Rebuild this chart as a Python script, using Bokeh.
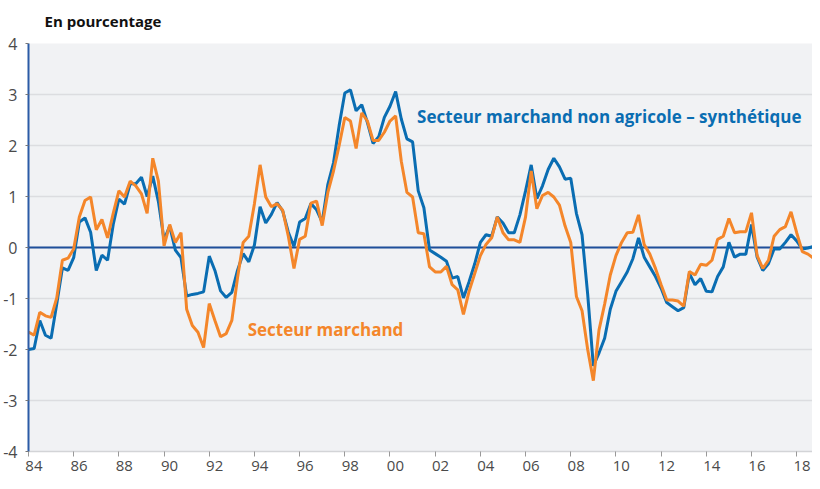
from bokeh.plotting import figure
from bokeh.models import FixedTicker, CustomJSTickFormatter, Span, Label, Title
from bokeh.embed import file_html
from bokeh.resources import INLINE

# ---- data (quarterly, from 1984 Q1) ----
start_year = 1984
blue_values = [
    -2.00, -1.98, -1.43, -1.72, -1.78, -1.11, -0.40, -0.45,
    -0.20, 0.50, 0.58, 0.30, -0.45, -0.15, -0.25, 0.45,
    0.95, 0.85, 1.25, 1.25, 1.38, 1.00, 1.40, 0.90,
    0.15, 0.42, -0.05, -0.20, -0.95, -0.92, -0.90, -0.87,
    -0.17, -0.45, -0.85, -0.98, -0.88, -0.45, -0.12, -0.28,
    0.05, 0.80, 0.48, 0.65, 0.88, 0.72, 0.30, 0.02,
    0.50, 0.57, 0.86, 0.74, 0.50, 1.24, 1.66, 2.39,
    3.03, 3.09, 2.68, 2.80, 2.45, 2.04, 2.17, 2.55,
    2.77, 3.06, 2.52, 2.13, 2.07, 1.11, 0.78, -0.05,
    -0.12, -0.19, -0.27, -0.60, -0.57, -0.99, -0.67, -0.32,
    0.10, 0.25, 0.22, 0.60, 0.48, 0.29, 0.29, 0.64,
    1.11, 1.62, 0.96, 1.21, 1.53, 1.75, 1.58, 1.34,
    1.36, 0.67, 0.25, -0.92, -2.32, -2.07, -1.78, -1.21,
    -0.86, -0.67, -0.48, -0.22, 0.19, -0.19, -0.38, -0.57,
    -0.80, -1.08, -1.16, -1.24, -1.18, -0.51, -0.73, -0.61,
    -0.86, -0.87, -0.57, -0.38, 0.10, -0.19, -0.13, -0.13,
    0.45, -0.19, -0.45, -0.32, -0.03, -0.03, 0.10, 0.25,
    0.13, -0.03, -0.01, 0.02,
]
orange_values = [
    -1.66, -1.72, -1.27, -1.34, -1.37, -0.99, -0.25, -0.21,
    -0.03, 0.60, 0.92, 0.99, 0.35, 0.55, 0.19, 0.67,
    1.11, 0.99, 1.30, 1.21, 1.05, 0.67, 1.75, 1.30,
    0.03, 0.45, 0.10, 0.29, -1.21, -1.53, -1.66, -1.96,
    -1.10, -1.43, -1.75, -1.69, -1.43, -0.60, 0.10, 0.22,
    0.86, 1.62, 0.99, 0.80, 0.86, 0.73, 0.22, -0.41,
    0.16, 0.22, 0.87, 0.91, 0.43, 1.08, 1.50, 2.00,
    2.55, 2.48, 1.94, 2.64, 2.48, 2.10, 2.10, 2.26,
    2.48, 2.58, 1.69, 1.08, 0.99, 0.29, 0.27, -0.38,
    -0.48, -0.48, -0.37, -0.73, -0.83, -1.31, -0.86, -0.51,
    -0.16, 0.06, 0.19, 0.60, 0.29, 0.15, 0.15, 0.10,
    0.60, 1.50, 0.76, 1.02, 1.08, 0.99, 0.83, 0.42,
    0.10, -0.96, -1.24, -2.00, -2.61, -1.62, -1.11, -0.54,
    -0.16, 0.10, 0.29, 0.30, 0.64, 0.06, -0.13, -0.41,
    -0.73, -1.03, -1.03, -1.05, -1.15, -0.47, -0.54, -0.33,
    -0.35, -0.25, 0.16, 0.22, 0.57, 0.29, 0.31, 0.31,
    0.68, -0.16, -0.41, -0.25, 0.22, 0.35, 0.41, 0.70,
    0.29, -0.08, -0.13, -0.21,
]
quarters = [start_year + i / 4 for i in range(len(blue_values))]

year_ticks = list(range(1984, 2019, 2))
y_ticks = [-4, -3, -2, -1, 0, 1, 2, 3, 4]

title_text = "En pourcentage"
blue_name = "Secteur marchand non agricole \u2013 synth\u00e9tique"
orange_name = "Secteur marchand"

# ---- styles ----
BLUE = "#0a6db2"
ORANGE = "#f4862a"
FONT = "Open Sans"

p = figure(width=812, height=473, x_range=(1984, 2018.7), y_range=(-4, 4),
           output_backend="svg", toolbar_location=None,
           min_border_left=26, min_border_right=0, min_border_top=35,
           min_border_bottom=20)
p.background_fill_color = "#f1f2f4"
p.border_fill_color = "white"
p.outline_line_color = None

p.title = Title(text=title_text, align="left", vertical_align="top", offset=16,
                standoff=21, text_font=FONT, text_font_size="15px",
                text_font_style="bold", text_color="#111111")

# grid
p.xgrid.grid_line_color = None
p.ygrid.ticker = FixedTicker(ticks=y_ticks)
p.ygrid.grid_line_color = "#dcdde0"
p.ygrid.grid_line_width = 1.5

# y axis
p.yaxis.ticker = FixedTicker(ticks=y_ticks)
p.yaxis.formatter = CustomJSTickFormatter(code="return tick.toString();")
p.yaxis.axis_line_color = "#2b5ba6"
p.yaxis.axis_line_width = 2
p.yaxis.major_tick_out = 3
p.yaxis.major_tick_in = 0
p.yaxis.major_tick_line_color = "#777777"
p.yaxis.minor_tick_line_color = None
p.yaxis.major_label_standoff = 8
p.yaxis.major_label_text_font = FONT
p.yaxis.major_label_text_font_size = "16px"
p.yaxis.major_label_text_color = "#4a4a4a"

# x axis: tick marks at even years, labels slightly to the right
p.xaxis.ticker = FixedTicker(ticks=[y + 0.24 for y in year_ticks], minor_ticks=year_ticks)
p.xaxis.formatter = CustomJSTickFormatter(code="return String(Math.floor(tick)).slice(-2);")
p.xaxis.axis_line_color = "#d3d4d7"
p.xaxis.axis_line_width = 1.5
p.xaxis.major_tick_line_color = None
p.xaxis.major_tick_out = 5
p.xaxis.major_tick_in = 0
p.xaxis.minor_tick_line_color = "#999999"
p.xaxis.minor_tick_out = 5
p.xaxis.minor_tick_in = 0
p.xaxis.major_label_standoff = 4
p.xaxis.major_label_text_font = FONT
p.xaxis.major_label_text_font_size = "15px"
p.xaxis.major_label_text_color = "#4a4a4a"

# zero line
zero = Span(location=0, dimension="width", line_color="#1f4f9a", line_width=2, level="underlay")
p.add_layout(zero)

p.line(quarters, blue_values, line_color=BLUE, line_width=3)
p.line(quarters, orange_values, line_color=ORANGE, line_width=3)

p.add_layout(Label(x=2001.2, y=2.56, text=blue_name, text_baseline="middle",
                   text_color=BLUE, text_font=FONT, text_font_size="17px",
                   text_font_style="bold"))
p.add_layout(Label(x=1993.7, y=-1.6, text=orange_name, text_baseline="middle",
                   text_color=ORANGE, text_font=FONT, text_font_size="17px",
                   text_font_style="bold"))

open("out.html", "w").write(file_html(p, INLINE))
